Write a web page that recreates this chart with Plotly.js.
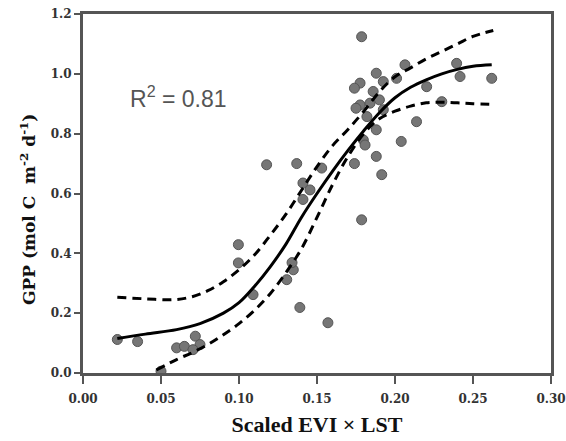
<!DOCTYPE html>
<html><head><meta charset="utf-8">
<script src="https://cdn.plot.ly/plotly-3.0.1.min.js"></script>
<style>html,body{margin:0;padding:0;background:#fff}#chart{width:566px;height:441px}</style>
</head><body><div id="chart"></div>
<script>
// Observed points (Scaled EVI x LST, GPP)
const obsX = [0.022,0.035,0.050,0.060,0.065,0.072,0.075,0.0705,
  0.0996,0.0996,0.109,0.1348,0.1306,0.134,0.139,0.157,
  0.1177,0.137,0.141,0.1455,0.141,0.153,0.174,0.1786,0.188,0.1915,0.204,0.2138,0.1797,0.1808,
  0.1786,0.2064,0.188,0.1776,0.1925,0.201,0.174,0.186,0.190,0.1776,0.175,0.184,0.1925,0.182,0.188,
  0.2203,0.230,0.2395,0.2417,0.262];
const obsY = [0.112,0.105,0.006,0.084,0.089,0.123,0.095,0.078,
  0.429,0.368,0.262,0.345,0.312,0.369,0.219,0.168,
  0.696,0.700,0.635,0.612,0.580,0.685,0.700,0.512,0.724,0.663,0.774,0.840,0.779,0.762,
  1.124,1.030,1.002,0.969,0.974,0.985,0.952,0.941,0.913,0.896,0.885,0.902,0.880,0.857,0.813,
  0.957,0.907,1.035,0.991,0.985];

// Fitted curve
const fitX = [0.022,0.04,0.06,0.075,0.09,0.10,0.11,0.12,0.13,0.14,0.15,0.16,0.17,0.18,0.19,0.20,0.21,0.22,0.23,0.24,0.25,0.262];
const fitY = [0.115,0.13,0.145,0.165,0.20,0.235,0.29,0.355,0.43,0.52,0.60,0.675,0.745,0.81,0.87,0.92,0.955,0.98,1.0,1.015,1.025,1.03];

// Upper confidence band
const upX = [0.022,0.04,0.058,0.07,0.08,0.09,0.10,0.11,0.12,0.13,0.14,0.15,0.16,0.17,0.18,0.19,0.20,0.21,0.22,0.23,0.24,0.25,0.263];
const upY = [0.253,0.248,0.245,0.255,0.275,0.305,0.345,0.395,0.46,0.53,0.61,0.69,0.76,0.815,0.875,0.94,0.99,1.02,1.05,1.075,1.10,1.125,1.145];

// Lower confidence band
const loX = [0.047,0.06,0.07,0.08,0.09,0.10,0.11,0.12,0.13,0.14,0.15,0.16,0.17,0.18,0.19,0.20,0.21,0.22,0.23,0.24,0.25,0.262];
const loY = [0.01,0.045,0.068,0.095,0.128,0.165,0.21,0.265,0.335,0.415,0.52,0.63,0.725,0.80,0.85,0.875,0.892,0.903,0.905,0.903,0.90,0.898];

const xTicks = [0,0.05,0.10,0.15,0.20,0.25,0.30];
const xTickText = ['0.00','0.05','0.10','0.15','0.20','0.25','0.30'];
const yTicks = [0,0.2,0.4,0.6,0.8,1.0,1.2];
const yTickText = ['0.0','0.2','0.4','0.6','0.8','1.0','1.2'];

const traces = [
  {x: obsX, y: obsY, mode: 'markers', type: 'scatter',
   marker: {size: 10, color: '#767676', line: {color: '#555', width: 1}}},
  {x: upX, y: upY, mode: 'lines', type: 'scatter', line: {color: '#000', width: 3, dash: '9px,6px', shape: 'spline'}},
  {x: loX, y: loY, mode: 'lines', type: 'scatter', line: {color: '#000', width: 3, dash: '9px,6px', shape: 'spline'}},
  {x: fitX, y: fitY, mode: 'lines', type: 'scatter', line: {color: '#000', width: 3, shape: 'spline'}}
];

const tickFont = {family: 'DejaVu Serif, serif', size: 12, color: '#333', weight: 'bold'};
const layout = {
  width: 566, height: 441,
  margin: {l: 83, r: 15, t: 14, b: 68},
  paper_bgcolor: '#fff', plot_bgcolor: '#fff',
  showlegend: false,
  xaxis: {range: [0, 0.30], tickvals: xTicks, ticktext: xTickText, ticks: 'outside', ticklen: 8, tickwidth: 2, tickcolor: '#555',
          ticklabelstandoff: 5,
          showgrid: false, zeroline: false, showline: true, linecolor: '#555', linewidth: 3, mirror: true,
          tickfont: tickFont,
          title: {text: '<b>Scaled EVI × LST</b>', font: {family: 'Liberation Serif, serif', size: 22, color: '#111'}, standoff: 12}},
  yaxis: {range: [0, 1.2], tickvals: yTicks, ticktext: yTickText, ticks: 'outside', ticklen: 6, tickwidth: 2, tickcolor: '#555',
          showgrid: false, zeroline: false, showline: true, linecolor: '#555', linewidth: 3, mirror: true,
          tickfont: tickFont},
  annotations: [
    {x: 0.061, y: 0.923, xref: 'x', yref: 'y', showarrow: false,
     text: 'R<sup>2</sup> = 0.81', font: {family: 'Liberation Sans, Arial, sans-serif', size: 23, color: '#555'}},
    {x: 28, y: 210, xref: 'paper', yref: 'paper', xanchor: 'center', yanchor: 'middle', showarrow: false, textangle: -90,
     text: '<b>GPP (mol C  m<sup>-2</sup> d<sup>-1</sup>)</b>', font: {family: 'DejaVu Serif, serif', size: 17, color: '#111'}}
  ]
};
// y-title position given in pixels above -> convert to paper fractions
const plotW = 566 - 83 - 15, plotH = 441 - 14 - 68;
layout.annotations[1].x = (28 - 83) / plotW;
layout.annotations[1].y = (441 - 68 - 210) / plotH;
Plotly.newPlot('chart', traces, layout, {displayModeBar: false, staticPlot: true});
</script></body></html>
